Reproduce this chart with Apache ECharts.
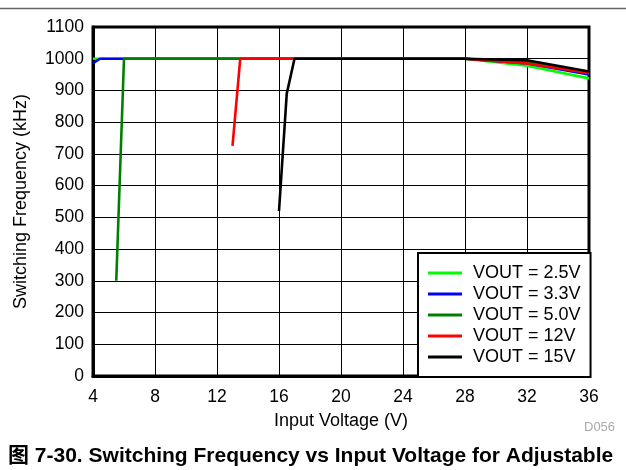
<!DOCTYPE html>
<html>
<head>
<meta charset="utf-8">
<script src="https://cdn.jsdelivr.net/npm/echarts@6/dist/echarts.min.js"></script>
<style>
  html, body { margin: 0; padding: 0; background: #fff; }
  #chart { width: 626px; height: 470px; }
</style>
</head>
<body>
<div id="chart"></div>
<script>
// Input voltage (V) and switching frequency (kHz) for each output setting
const vin25 = [4, 28, 32, 36];
const fsw25 = [1000, 1000, 978, 938];
const vin33 = [4, 4.45, 28, 32, 36];
const fsw33 = [986, 1000, 1000, 985, 950];
const vin50 = [5.5, 6, 28, 32, 36];
const fsw50 = [300, 1000, 1000, 990, 955];
const vin12 = [13, 13.5, 28, 32, 36];
const fsw12 = [725, 1000, 1000, 985, 955];
const vin15 = [16, 16.5, 17, 28, 32, 36];
const fsw15 = [520, 890, 1000, 1000, 995, 960];

const seriesNames = ['VOUT = 2.5V', 'VOUT = 3.3V', 'VOUT = 5.0V', 'VOUT = 12V', 'VOUT = 15V'];
const seriesColors = ['#00ff00', '#0000ff', '#008000', '#ff0000', '#000000'];
const xTicks = [4, 8, 12, 16, 20, 24, 28, 32, 36];

const pairs = (xs, ys) => xs.map((x, i) => [x, ys[i]]);
const allData = [
  pairs(vin25, fsw25),
  pairs(vin33, fsw33),
  pairs(vin50, fsw50),
  pairs(vin12, fsw12),
  pairs(vin15, fsw15)
];

const FONT = '"Liberation Sans", Arial, "Noto Sans CJK SC", sans-serif';

const chart = echarts.init(document.getElementById('chart'), null, { renderer: 'canvas' });

chart.setOption({
  animation: false,
  backgroundColor: '#fff',
  textStyle: { fontFamily: FONT },
  grid: {
    left: 93, top: 27, width: 496, height: 349,
    show: true, borderColor: '#000', borderWidth: 3, backgroundColor: 'transparent'
  },
  xAxis: {
    type: 'value',
    min: 4, max: 36, interval: 4,
    name: 'Input Voltage (V)',
    nameLocation: 'middle',
    nameGap: 36,
    nameTextStyle: { fontSize: 18, color: '#000', fontFamily: FONT },
    axisLine: { show: true, onZero: false, lineStyle: { color: '#000', width: 3 } },
    axisTick: { show: false },
    axisLabel: {
      fontSize: 17.5, color: '#000', margin: 12, fontFamily: FONT,
      formatter: v => (xTicks.includes(v) ? String(v) : '')
    },
    splitLine: { show: true, lineStyle: { color: '#000', width: 1 } }
  },
  yAxis: {
    type: 'value',
    min: 0, max: 1100, interval: 100,
    name: 'Switching Frequency (kHz)',
    nameLocation: 'middle',
    nameRotate: 90,
    nameGap: 63,
    nameTextStyle: { fontSize: 18, color: '#000', fontFamily: FONT },
    axisLine: { show: true, onZero: false, lineStyle: { color: '#000', width: 3 } },
    axisTick: { show: false },
    axisLabel: { fontSize: 17.5, color: '#000', margin: 9, fontFamily: FONT, formatter: v => String(v) },
    splitLine: { show: true, lineStyle: { color: '#000', width: 1 } }
  },
  legend: {
    orient: 'vertical',
    left: 418, top: 253,
    backgroundColor: '#fff',
    borderColor: '#000', borderWidth: 2,
    padding: [11, 10, 11, 10],
    itemGap: 3,
    itemWidth: 34, itemHeight: 3,
    icon: 'rect',
    data: seriesNames,
    textStyle: { fontSize: 18, color: '#000', lineHeight: 18, fontFamily: FONT, padding: [0, 0, 0, 6] }
  },
  series: allData.map((d, i) => ({
    name: seriesNames[i],
    type: 'line',
    data: d,
    showSymbol: false,
    symbol: 'none',
    color: seriesColors[i],
    lineStyle: { color: seriesColors[i], width: 2.6 },
    z: 2 + i
  })),
  graphic: [
    {
      type: 'line',
      shape: { x1: 0, y1: 8.5, x2: 626, y2: 8.5 },
      style: { stroke: '#666', lineWidth: 1.5 },
      silent: true
    },
    {
      type: 'text',
      left: 584, top: 421,
      style: { text: 'D056', fill: '#aaa', font: '13px ' + FONT }
    },
    {
      type: 'text',
      left: 8, top: 446,
      style: {
        text: '图 7-30. Switching Frequency vs Input Voltage for Adjustable',
        fill: '#000',
        font: 'bold 21px ' + FONT
      }
    }
  ]
});
</script>
</body>
</html>
